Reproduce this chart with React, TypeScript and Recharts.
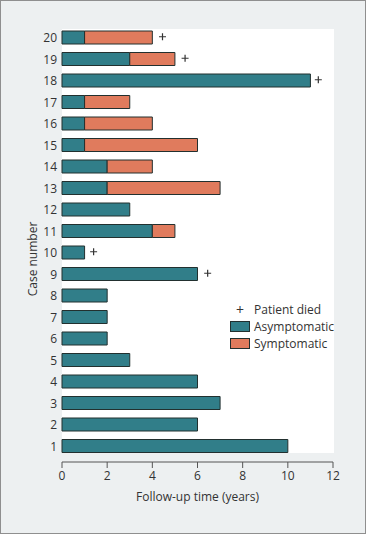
import { ComposedChart, Bar, Scatter, XAxis, YAxis } from "recharts"

const cases = ["1", "2", "3", "4", "5", "6", "7", "8", "9", "10", "11", "12", "13", "14", "15", "16", "17", "18", "19", "20"]
const asymptomatic = [10, 6, 7, 6, 3, 2, 2, 2, 6, 1, 4, 3, 2, 2, 1, 1, 1, 11, 3, 1]
const symptomatic = [0, 0, 0, 0, 0, 0, 0, 0, 0, 0, 1, 0, 5, 2, 5, 3, 2, 0, 2, 3]
// x position of the "+" (patient died) marker, null when the patient survived
const diedMarker = [null, null, null, null, null, null, null, null, 6.45, 1.4, null, null, null, null, null, null, null, 11.35, 5.45, 4.45]
const xTicks = [0, 2, 4, 6, 8, 10, 12]

const TEAL = "#317e89"
const ORANGE = "#e07b5d"
const EDGE = "#22302f"
const TEXT = "#333333"
const FONT = "'Open Sans', sans-serif"

const chartData = cases.map((c, i) => ({
  case: c,
  asym: asymptomatic[i],
  sym: symptomatic[i],
  died: diedMarker[i],
}))

function PlusShape(props: any) {
  const { cx, cy } = props
  if (cx == null || cy == null || isNaN(cx)) return null
  return (
    <path
      d={`M${cx - 3.5},${cy - 1}h7M${cx},${cy - 4.5}v7`}
      stroke={TEXT}
      strokeWidth={1.2}
      fill="none"
    />
  )
}

function LegendBox() {
  const row = { display: "flex", alignItems: "center", height: 17 }
  const swatch = (color: string) => ({
    width: 18,
    height: 9,
    background: color,
    border: `1px solid ${EDGE}`,
    marginRight: 4,
  })
  return (
    <div style={{ position: "absolute", left: 229, top: 300, fontFamily: FONT, fontSize: 12, color: TEXT }}>
      <div style={row}>
        <span style={{ width: 20, marginRight: 4, textAlign: "center", fontSize: 14 }}>+</span>
        <span>Patient died</span>
      </div>
      <div style={row}>
        <span style={swatch(TEAL)} />
        <span>Asymptomatic</span>
      </div>
      <div style={row}>
        <span style={swatch(ORANGE)} />
        <span>Symptomatic</span>
      </div>
    </div>
  )
}

function YTitle() {
  return (
    <text
      x={32}
      y={259}
      transform="rotate(-90 32 259)"
      textAnchor="middle"
      dominantBaseline="central"
      fontFamily={FONT}
      fontSize={12}
      fill={TEXT}
    >
      Case number
    </text>
  )
}

export default function App() {
  return (
    <div
      style={{
        position: "absolute",
        left: 0,
        top: 0,
        width: 366,
        height: 534,
        boxSizing: "border-box",
        border: "1px solid #8f8f8f",
        background: "#edf0f1",
      }}
    >
      <div style={{ position: "absolute", left: 61, top: 28, width: 272, height: 424, background: "#ffffff" }} />
      <div style={{ position: "absolute", left: -1, top: -1 }}>
        <ComposedChart
          width={366}
          height={534}
          data={chartData}
          layout="vertical"
          margin={{ top: 27, right: 33, bottom: 32, left: 0 }}
        >
          <XAxis
            type="number"
            domain={[0, 12]}
            ticks={xTicks}
            tickSize={6}
            tickMargin={3}
            height={40}
            stroke="#555"
            tick={{ fill: TEXT, fontFamily: FONT, fontSize: 12 }}
            label={{
              value: "Follow-up time (years)",
              position: "insideBottom",
              offset: 1,
              fill: TEXT,
              fontFamily: FONT,
              fontSize: 12,
            }}
          />
          <YAxis
            type="category"
            dataKey="case"
            reversed
            interval={0}
            allowDuplicatedCategory={false}
            width={62}
            axisLine={false}
            tickLine={false}
            tickSize={0}
            tickMargin={5}
            padding={{ top: 0, bottom: 5 }}
            tick={{ fill: TEXT, fontFamily: FONT, fontSize: 12 }}
            label={<YTitle />}
          />
          <Bar dataKey="asym" stackId="a" fill={TEAL} stroke={EDGE} strokeWidth={1} barSize={13} isAnimationActive={false} />
          <Bar dataKey="sym" stackId="a" fill={ORANGE} stroke={EDGE} strokeWidth={1} barSize={13} isAnimationActive={false} />
          <Scatter dataKey="died" shape={<PlusShape />} isAnimationActive={false} />
        </ComposedChart>
      </div>
      <LegendBox />
    </div>
  )
}
